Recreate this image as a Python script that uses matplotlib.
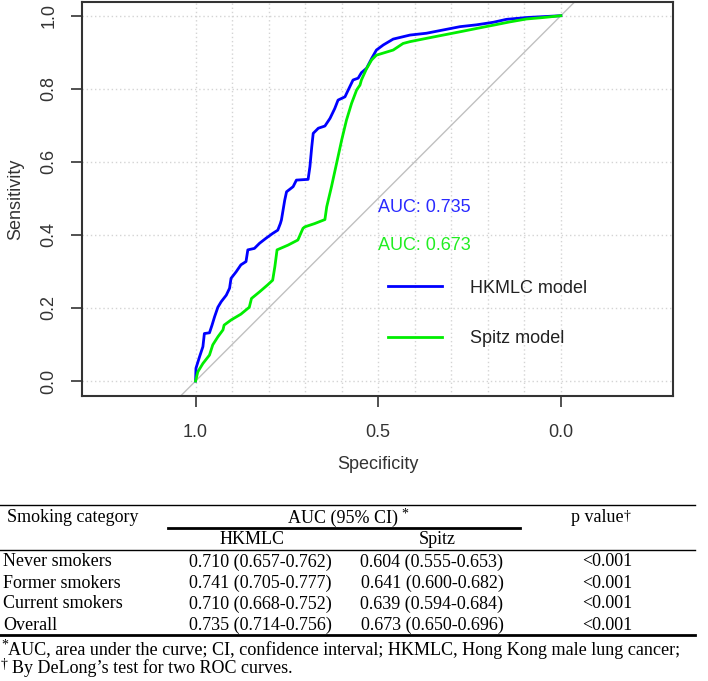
import numpy as np
import matplotlib.pyplot as plt

# ROC curve points (specificity, sensitivity)
hkmlc_spec = [1.0, 0.999, 0.989, 0.980, 0.976, 0.962, 0.955, 0.948, 0.939, 0.930, 0.916, 0.907,
              0.903, 0.889, 0.876, 0.862, 0.857, 0.839, 0.825, 0.807, 0.789, 0.775, 0.768, 0.765,
              0.756, 0.751, 0.733, 0.724, 0.692, 0.687, 0.682, 0.678, 0.664, 0.646, 0.632, 0.619,
              0.610, 0.591, 0.582, 0.569, 0.555, 0.546, 0.532, 0.518, 0.505, 0.486, 0.459, 0.413,
              0.368, 0.322, 0.276, 0.231, 0.185, 0.149, 0.094, 0.057, 0.0]
hkmlc_sens = [0.0, 0.035, 0.067, 0.094, 0.130, 0.132, 0.153, 0.176, 0.202, 0.217, 0.235, 0.254,
              0.281, 0.299, 0.318, 0.327, 0.359, 0.363, 0.377, 0.391, 0.404, 0.413, 0.431, 0.441,
              0.495, 0.518, 0.532, 0.550, 0.552, 0.587, 0.641, 0.678, 0.692, 0.698, 0.719, 0.746,
              0.769, 0.778, 0.797, 0.824, 0.829, 0.844, 0.856, 0.883, 0.906, 0.920, 0.936, 0.947,
              0.952, 0.961, 0.970, 0.975, 0.982, 0.990, 0.995, 0.997, 1.0]

spitz_spec = [1.0, 0.994, 0.980, 0.962, 0.953, 0.939, 0.925, 0.922, 0.903, 0.876, 0.853, 0.847,
              0.825, 0.803, 0.789, 0.783, 0.777, 0.747, 0.720, 0.706, 0.701, 0.674, 0.646, 0.641,
              0.628, 0.614, 0.600, 0.587, 0.573, 0.559, 0.550, 0.546, 0.532, 0.518, 0.505, 0.459,
              0.432, 0.413, 0.368, 0.322, 0.276, 0.231, 0.185, 0.140, 0.094, 0.048, 0.0]
spitz_sens = [0.0, 0.025, 0.048, 0.071, 0.099, 0.121, 0.140, 0.153, 0.167, 0.183, 0.202, 0.226,
              0.244, 0.263, 0.276, 0.313, 0.359, 0.372, 0.386, 0.418, 0.422, 0.431, 0.442, 0.477,
              0.532, 0.596, 0.660, 0.714, 0.760, 0.797, 0.810, 0.824, 0.855, 0.879, 0.892, 0.906,
              0.924, 0.929, 0.938, 0.947, 0.956, 0.965, 0.974, 0.983, 0.991, 0.995, 1.0]

auc_labels = ['AUC: 0.735', 'AUC: 0.673']
model_names = ['HKMLC model', 'Spitz model']

# table
categories = ['Never smokers', 'Former smokers', 'Current smokers', 'Overall']
hkmlc_auc = [0.710, 0.741, 0.710, 0.735]
hkmlc_lo = [0.657, 0.705, 0.668, 0.714]
hkmlc_hi = [0.762, 0.777, 0.752, 0.756]
spitz_auc = [0.604, 0.641, 0.639, 0.673]
spitz_lo = [0.555, 0.600, 0.594, 0.650]
spitz_hi = [0.653, 0.682, 0.684, 0.696]
p_values = ['<0.001', '<0.001', '<0.001', '<0.001']

W, H = 708, 681
fig = plt.figure(figsize=(W / 100, H / 100), dpi=100)
ax = fig.add_axes([82 / W, 1 - 396 / H, 591 / W, 394 / H])

sans = 'Liberation Sans'
dark = '#333333'
blue = '#0000ff'
green = '#00ee00'

ax.set_xlim(1.311, -0.307)
ax.set_ylim(-0.041, 1.0375)

for v in np.arange(0, 1.01, 0.1):
    ax.axvline(v, color='#d4d4d4', ls=(0, (1, 2)), lw=1, zorder=0)
for v in np.arange(0, 1.01, 0.2):
    ax.axhline(v, color='#d4d4d4', ls=(0, (1, 2)), lw=1, zorder=0)
ax.axline((1, 0), (0, 1), color='#c0c0c0', lw=1, zorder=1)

l1, = ax.plot(hkmlc_spec, hkmlc_sens, color=blue, lw=2.0, zorder=3)
l2, = ax.plot(spitz_spec, spitz_sens, color=green, lw=2.0, zorder=4)

ax.text(0.5, 0.476, auc_labels[0], color='#2a2aff', fontsize=13, family=sans, ha='left', va='center')
ax.text(0.5, 0.372, auc_labels[1], color='#22ee22', fontsize=13, family=sans, ha='left', va='center')

leg = ax.legend([l1, l2], model_names, frameon=False, loc='center left',
                bbox_to_anchor=(0.518, 0.2094), borderpad=0, borderaxespad=0,
                handlelength=3.0, handletextpad=1.55, labelspacing=1.88,
                prop={'family': sans, 'size': 13})
for t in leg.get_texts():
    t.set_color('#222222')

for s in ax.spines.values():
    s.set_color(dark)
    s.set_linewidth(1.5)

ax.set_xticks([1.0, 0.5, 0.0])
ax.set_xticklabels(['1.0', '0.5', '0.0'], family=sans, fontsize=13, color=dark)
ax.set_yticks([0.0, 0.2, 0.4, 0.6, 0.8, 1.0])
ax.set_yticklabels(['0.0', '0.2', '0.4', '0.6', '0.8', '1.0'], family=sans, fontsize=13,
                   color=dark, rotation=90, va='center')
ax.tick_params(axis='both', length=7.7, width=1.2, color=dark)
ax.tick_params(axis='x', pad=12.5)
ax.tick_params(axis='y', pad=10)

ax.text(0.5, -0.1726, 'Specificity', transform=ax.transAxes, fontsize=13, family=sans,
        color=dark, ha='center', va='center')
ax.text(-0.112, 0.5, 'Sensitivity', transform=ax.transAxes, fontsize=13, family=sans,
        color=dark, ha='center', va='center', rotation=90)

# table drawn in pixel coordinates of the figure
tab = fig.add_axes([0, 0, 1, 1], zorder=-1)
tab.set_xlim(0, W)
tab.set_ylim(H, 0)
tab.axis('off')

serif = 'Liberation Serif'
fs = 13
tab.plot([0, 695], [505, 505], color='black', lw=1.0)
tab.plot([168, 520], [528, 528], color='black', lw=2.0)
tab.plot([0, 695], [550, 550], color='black', lw=1.0)
tab.plot([0, 695], [635, 635], color='black', lw=2.0)

tab.text(7, 518, 'Smoking category', family=serif, fontsize=fs, va='center', ha='left')
auc_hdr = tab.text(343, 518, 'AUC (95% CI)', family=serif, fontsize=fs, va='center', ha='center')
tab.annotate('*', xy=(1, 1), xycoords=auc_hdr, xytext=(2.5, 1), textcoords='offset points',
             family=serif, fontsize=10, va='top', ha='left')
p_hdr = tab.text(597, 518, 'p value', family=serif, fontsize=fs, va='center', ha='center')
tab.annotate('\u2020', xy=(1, 1), xycoords=p_hdr, xytext=(0.5, 0), textcoords='offset points',
             family=serif, fontsize=10, va='top', ha='left')
tab.text(252, 540, 'HKMLC', family=serif, fontsize=fs, va='center', ha='center')
tab.text(437, 540, 'Spitz', family=serif, fontsize=fs, va='center', ha='center')

row_y = [562, 583, 604, 625]
for i, cat in enumerate(categories):
    y = row_y[i]
    tab.text(3, y, cat, family=serif, fontsize=fs, va='center', ha='left')
    tab.text(260, y, f'{hkmlc_auc[i]:.3f} ({hkmlc_lo[i]:.3f}-{hkmlc_hi[i]:.3f})',
             family=serif, fontsize=fs, va='center', ha='center')
    tab.text(432, y, f'{spitz_auc[i]:.3f} ({spitz_lo[i]:.3f}-{spitz_hi[i]:.3f})',
             family=serif, fontsize=fs, va='center', ha='center')
    tab.text(607, y, p_values[i], family=serif, fontsize=fs, va='center', ha='center')

tab.text(1, 645, '*', family=serif, fontsize=10, va='center', ha='left')
tab.text(8, 650, 'AUC, area under the curve; CI, confidence interval; HKMLC, Hong Kong male lung cancer;',
         family=serif, fontsize=13.1, va='center', ha='left')
tab.text(1, 664, '\u2020', family=serif, fontsize=10, va='center', ha='left')
tab.text(12, 668, 'By DeLong\u2019s test for two ROC curves.', family=serif, fontsize=fs,
         va='center', ha='left')

fig.savefig('out.png', dpi=100)
